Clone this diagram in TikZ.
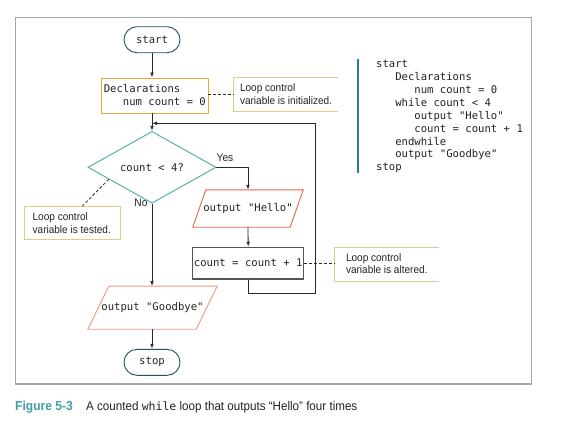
\documentclass[tikz,border=0pt]{standalone}
\usepackage{fontspec}
\setmainfont{Liberation Sans}[FakeStretch=0.93]
\setmonofont{DejaVu Sans Mono}
\usetikzlibrary{shapes.geometric,arrows.meta,calc}
\definecolor{termc}{HTML}{1E4F66}
\definecolor{declc}{HTML}{F2A73B}
\definecolor{diac}{HTML}{4BAAA0}
\definecolor{helloc}{HTML}{E8624A}
\definecolor{goodc}{HTML}{EE9584}
\definecolor{boxc}{HTML}{555555}
\definecolor{notec}{HTML}{D9CF8C}
\definecolor{framec}{HTML}{A8A8A8}
\definecolor{barc}{HTML}{2A7C9E}
\definecolor{figc}{HTML}{3E9FA5}
\definecolor{txtc}{HTML}{222222}
\definecolor{linec}{HTML}{2A2A2A}
\tikzset{
  mono/.style={font=\ttfamily\fontsize{10.6}{12.95}\selectfont, text=txtc},
  term/.style={mono, draw=termc, line width=0.9pt, rounded corners=13pt,
    minimum width=56pt, minimum height=26pt, inner sep=0pt},
  declbox/.style={draw=declc, line width=0.9pt, inner sep=0pt,
    minimum width=107pt, minimum height=35pt},
  monotext/.style={mono, anchor=west, align=left, inner sep=0pt},
  dia/.style={mono, shape=diamond, draw=diac, line width=0.9pt,
    minimum width=128pt, minimum height=59pt, inner sep=0pt},
  parabox/.style={mono, inner sep=0pt},
  cntbox/.style={mono, draw=boxc, line width=1.2pt, minimum width=111pt,
    minimum height=31.7pt, inner sep=0pt},
  notebox/.style={inner sep=0pt},
  noteline/.style={draw=notec, line width=1.1pt},
  notetext/.style={anchor=west, align=left, inner sep=0pt, text=txtc,
    font=\fontsize{10.8}{12.7}\selectfont},
  lbl/.style={inner sep=0pt, text=txtc, font=\fontsize{11}{13}\selectfont},
  arr/.style={-{Latex[length=5pt,width=3.6pt]}, draw=linec, line width=0.8pt},
  dashconn/.style={draw=linec, line width=0.8pt, dash pattern=on 3pt off 2pt},
  code/.style={mono, anchor=base west, inner sep=0pt},
}
\begin{document}
\begin{tikzpicture}[x=1pt,y=-1pt]
\useasboundingbox (0,0) rectangle (572,429);
% frame
\draw[framec, line width=1.4pt] (15.5,17.7) rectangle (531.7,384);

% flowchart nodes
\node[term] (start) at (152,39.7) {start};
\node[declbox] (decl) at (154.5,95.5) {};
\node[monotext] (declt) at ($(decl.west)+(3,-0.5)$) {Declarations\\\phantom{num}num count = 0};
\node[dia] (dia) at (152,167.3) {count < 4?};
\node[parabox, minimum width=110pt, minimum height=37pt] (hello) at (248,208.5) {output "Hello"};
\node[cntbox] (cnt) at (248.2,263.2) {count = count + 1};
\node[parabox, minimum width=129pt, minimum height=42.7pt] (good) at (152.5,307.7) {output "Goodbye"};
\node[term] (stop) at (152,362.3) {stop};

% parallelogram outlines
\draw[draw=helloc, line width=0.9pt] ($(hello.north west)+(13,0)$) -- (hello.north east)
  -- ($(hello.south east)-(13,0)$) -- (hello.south west) -- cycle;
\draw[draw=goodc, line width=0.9pt] ($(good.north west)+(21,0)$) -- (good.north east)
  -- ($(good.south east)-(21,0)$) -- (good.south west) -- cycle;

% notes
\node[notebox, minimum width=104.3pt, minimum height=33.3pt] (note1) at (285.85,94.35) {};
\draw[noteline] (note1.north east) -- (note1.north west) -- (note1.south west) -- (note1.south east);
\node[notetext] (note1t) at ($(note1.west)+(6.3,0)$) {Loop control\\variable is initialized.};

\node[notebox, draw=notec, line width=1.1pt, minimum width=96.4pt, minimum height=33pt] (note2) at (72.5,223.2) {};
\node[notetext] (note2t) at ($(note2.west)+(8.7,0)$) {Loop control\\variable is tested.};

\node[notebox, minimum width=104pt, minimum height=34pt] (note3) at (387,264.7) {};
\draw[noteline] (note3.north east) -- (note3.north west) -- (note3.south west) -- (note3.south east);
\node[notetext] (note3t) at ($(note3.west)+(11,-1)$) {Loop control\\variable is altered.};

% labels
\node[lbl] (yes) at (225,158) {Yes};
\node[lbl] (no) at (141,203) {No};

% connectors
\draw[arr] (start.south) -- (start.south |- decl.north);
\draw[arr] (dia.north |- decl.south) -- (dia.north);
\draw[arr] (dia.east) -| (hello.north);
\draw[arr] (hello.south) -- (cnt.north);
\draw[arr] (dia.south) -- (dia.south |- good.north);
\draw[arr] (good.south -| stop.north) -- (stop.north);
\coordinate (lpB) at (315,293.3);
\coordinate (lpT) at (315,123.3);
\coordinate (join) at (152,123.3);
\draw[arr] (cnt.south) |- (lpB) -- (lpT) -- (join);

\draw[dashconn] (decl.east |- note1.west) -- (note1.west);
\draw[dashconn] ($(dia.west)!0.33!(dia.south)$) -- ($(note2.north west)!0.6!(note2.north east)$);
\draw[dashconn] (cnt.east) -- (cnt.east -| note3.west);

% code listing
\coordinate (barT) at (358.3,59.3);
\coordinate (barB) at (358.3,172.7);
\draw[barc, line width=2pt] (barT) -- (barB);
\node[code] (c1) at (376,67.3) {start};
\node[code] (c2) at (395.1,80.25) {Declarations};
\node[code] (c3) at (414.2,93.2) {num count = 0};
\node[code] (c4) at (395.1,106.15) {while count < 4};
\node[code] (c5) at (414.2,119.1) {output "Hello"};
\node[code] (c6) at (414.2,132.05) {count = count + 1};
\node[code] (c7) at (395.1,145) {endwhile};
\node[code] (c8) at (395.1,157.95) {output "Goodbye"};
\node[code] (c9) at (376,170.9) {stop};

% caption
\node[anchor=base west, inner sep=0pt, text=figc, font=\bfseries\fontsize{13}{15}\selectfont] (fig) at (15,410.3) {Figure 5-3};
\node[anchor=base west, inner sep=0pt, text=txtc, font=\fontsize{12.5}{15}\selectfont] (cap) at (86,410.3)
  {A counted {\ttfamily\fontsize{11.5}{15}\selectfont while} loop that outputs “Hello” four times};
\end{tikzpicture}
\end{document}
